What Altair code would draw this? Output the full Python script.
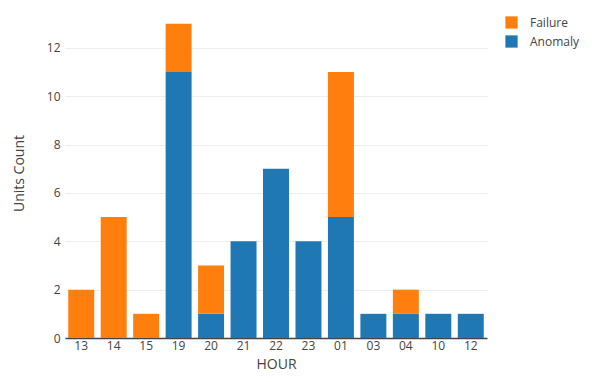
import altair as alt
import pandas as pd

hours = ["13", "14", "15", "19", "20", "21", "22", "23", "01", "03", "04", "10", "12"]
anomaly = [0, 0, 0, 11, 1, 4, 7, 4, 5, 1, 1, 1, 1]
failure = [2, 5, 1, 2, 2, 0, 0, 0, 6, 0, 1, 0, 0]
series = ["Failure", "Anomaly"]
colors = ["#ff7f0e", "#1f77b4"]

rows = []
for h, a, f in zip(hours, anomaly, failure):
    rows.append({"HOUR": h, "type": "Anomaly", "count": a, "ord": 0})
    rows.append({"HOUR": h, "type": "Failure", "count": f, "ord": 1})
df = pd.DataFrame(rows)

FONT = "Open Sans"

chart = alt.Chart(df).mark_bar().encode(
    x=alt.X("HOUR:N", sort=hours, title="HOUR",
            scale=alt.Scale(paddingInner=0.2, paddingOuter=0.1),
            axis=alt.Axis(labelAngle=0, ticks=False, grid=False, domainColor="#444",
                          domainWidth=1.5, labelColor="#444", labelFontSize=12, labelFont=FONT,
                          labelPadding=2, titleFont=FONT, titleFontSize=14, titleColor="#444",
                          titleFontWeight="normal", titlePadding=6)),
    y=alt.Y("count:Q", stack="zero", title="Units Count",
            scale=alt.Scale(domain=[0, 13.65], nice=False),
            axis=alt.Axis(values=[0, 2, 4, 6, 8, 10, 12], ticks=False, domain=False,
                          gridColor="#eeeeee", labelColor="#444", labelFontSize=12,
                          labelFont=FONT, labelPadding=5, titleFont=FONT, titleFontSize=14,
                          titleColor="#444", titleFontWeight="normal", titlePadding=20)),
    color=alt.Color("type:N", scale=alt.Scale(domain=series, range=colors),
                    legend=alt.Legend(title=None, orient="none", legendX=440, legendY=8,
                                      symbolType="square", symbolSize=150, symbolStrokeWidth=0,
                                      labelFont=FONT, labelFontSize=12, labelColor="#444",
                                      rowPadding=6, labelOffset=12)),
    order=alt.Order("ord:Q"),
).properties(
    width=422, height=330,
    padding={"left": 57, "top": 0, "right": 97, "bottom": 36},
    autosize=alt.AutoSizeParams(type="none"),
).configure_view(stroke=None)

chart.save("out.html", embed_options={"renderer": "svg", "actions": False})
